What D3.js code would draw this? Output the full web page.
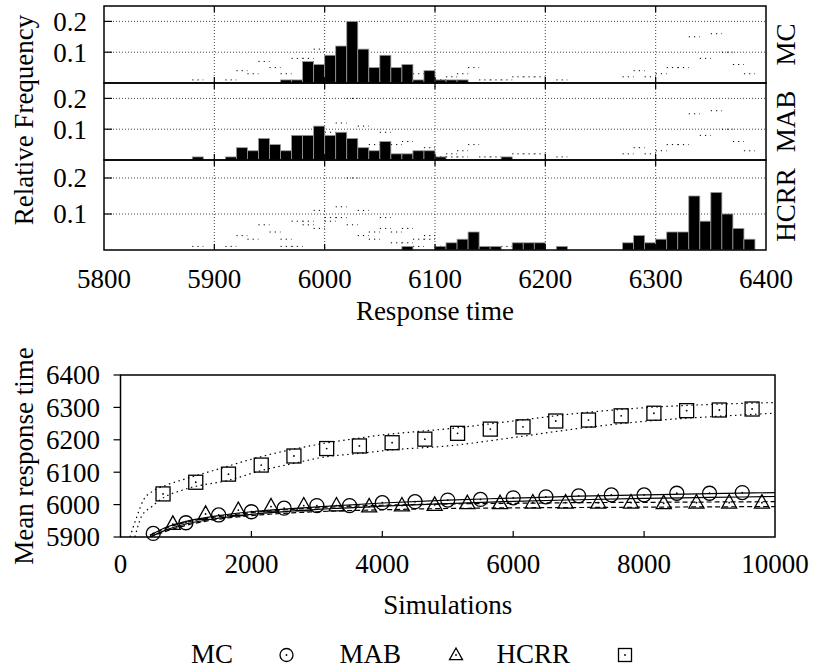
<!DOCTYPE html>
<html>
<head>
<meta charset="utf-8">
<script src="https://cdn.jsdelivr.net/npm/d3@7"></script>
<style>
  body { margin: 0; background: #fff; }
</style>
</head>
<body>
<div id="chart"></div>
<script>
// ---- histogram data (bin start, relative frequency, bin width 10) ----
var seriesNames = ["MC", "MAB", "HCRR"];

var mcBins = [5960, 5970, 5980, 5990, 6000, 6010, 6020, 6030, 6040, 6050, 6060, 6070, 6080, 6090, 6100, 6110, 6120];
var mcFreq = [0.01, 0.01, 0.07, 0.06, 0.09, 0.12, 0.20, 0.11, 0.05, 0.09, 0.05, 0.06, 0.01, 0.04, 0.01, 0.01, 0.01];

var mabBins = [5880, 5910, 5920, 5930, 5940, 5950, 5960, 5970, 5980, 5990, 6000, 6010, 6020, 6030, 6040, 6050, 6060, 6070, 6080, 6090, 6100, 6160];
var mabFreq = [0.01, 0.01, 0.04, 0.03, 0.07, 0.05, 0.03, 0.08, 0.08, 0.11, 0.08, 0.09, 0.07, 0.04, 0.03, 0.06, 0.02, 0.02, 0.03, 0.03, 0.01, 0.01];

var hcrrBins = [6070, 6100, 6110, 6120, 6130, 6140, 6150, 6170, 6180, 6190, 6210, 6270, 6280, 6290, 6300, 6310, 6320, 6330, 6340, 6350, 6360, 6370, 6380];
var hcrrFreq = [0.01, 0.01, 0.02, 0.03, 0.05, 0.01, 0.01, 0.02, 0.02, 0.02, 0.01, 0.02, 0.04, 0.02, 0.03, 0.05, 0.05, 0.15, 0.08, 0.16, 0.10, 0.06, 0.03];

var histXTicks = [5800, 5900, 6000, 6100, 6200, 6300, 6400];
var histYTicks = [0.1, 0.2];

// ---- convergence data (simulations vs mean response time) ----
var mcX = [500, 1000, 1500, 2000, 2500, 3000, 3500, 4000, 4500, 5000, 5500, 6000, 6500, 7000, 7500, 8000, 8500, 9000, 9500];
var mcY = [5911, 5944, 5968, 5978, 5989, 5997, 5997, 6006, 6009, 6014, 6016, 6021, 6024, 6027, 6030, 6030, 6035, 6035, 6037];

var mabX = [800, 1300, 1800, 2300, 2800, 3300, 3800, 4300, 4800, 5300, 5800, 6300, 6800, 7300, 7800, 8300, 8800, 9300, 9800];
var mabY = [5940, 5971, 5983, 5994, 5997, 5997, 5994, 5997, 5999, 6004, 6004, 6006, 6006, 6006, 6006, 6004, 6006, 6006, 6006];

var hcrrX = [650, 1150, 1650, 2150, 2650, 3150, 3650, 4150, 4650, 5150, 5650, 6150, 6650, 7150, 7650, 8150, 8650, 9150, 9650];
var hcrrY = [6033, 6069, 6094, 6122, 6150, 6173, 6181, 6191, 6202, 6220, 6233, 6240, 6258, 6261, 6274, 6282, 6290, 6292, 6295];

// confidence band curves
var mcBandX = [450, 700, 1000, 1500, 2000, 3000, 4000, 5000, 6000, 7000, 8000, 9000, 10000];
var mcUpper = [5905, 5930, 5948, 5966, 5978, 5993, 6005, 6014, 6020, 6026, 6030, 6034, 6037];
var mcLower = [5900, 5922, 5940, 5958, 5970, 5985, 5995, 6003, 6010, 6015, 6019, 6022, 6025];

var mabBandX = [450, 700, 1000, 1500, 2000, 3000, 4000, 5000, 6000, 7000, 8000, 9000, 10000];
var mabUpper = [5905, 5928, 5945, 5963, 5975, 5990, 5998, 6002, 6004, 6006, 6007, 6008, 6009];
var mabLower = [5900, 5918, 5936, 5955, 5966, 5978, 5984, 5988, 5990, 5991, 5992, 5993, 5994];

var hcrrUpX = [145, 250, 350, 480, 700, 1000, 1500, 2000, 2500, 3000, 3500, 4000, 4500, 5000, 6000, 7000, 8000, 9000, 10000];
var hcrrUpper = [5900, 5963, 6014, 6040, 6060, 6080, 6110, 6140, 6165, 6185, 6201, 6215, 6225, 6234, 6258, 6282, 6299, 6309, 6315];
var hcrrLoX = [220, 320, 480, 600, 1000, 1670, 2150, 2640, 3150, 3650, 4150, 5000, 6000, 7000, 8000, 9000, 10000];
var hcrrLower = [5900, 5963, 5994, 6014, 6048, 6076, 6105, 6127, 6148, 6158, 6169, 6181, 6207, 6235, 6257, 6271, 6282];

var convXTicks = [0, 2000, 4000, 6000, 8000, 10000];
var convYTicks = [5900, 6000, 6100, 6200, 6300, 6400];

var svgWidth = 814, svgHeight = 669;
var fontSize = 27;
var serif = "'Liberation Serif', 'Times New Roman', Times, 'Nimbus Roman', 'DejaVu Serif', serif";

var svg = d3.select("#chart").append("svg")
  .attr("width", svgWidth)
  .attr("height", svgHeight)
  .attr("font-family", serif)
  .style("font-family", serif);

// ================= top: three histogram panels =================
var histLeft = 104, histRight = 766;
var panels = [
  { name: "MC", top: 6, bottom: 83, bins: mcBins, freq: mcFreq },
  { name: "MAB", top: 83, bottom: 160, bins: mabBins, freq: mabFreq },
  { name: "HCRR", top: 160, bottom: 250, bins: hcrrBins, freq: hcrrFreq }
];

var xHist = d3.scaleLinear().domain([5800, 6400]).range([histLeft, histRight]);

panels.forEach(function(p, i) {
  var y = d3.scaleLinear().domain([0, 0.25]).range([p.bottom, p.top]);
  var g = svg.append("g");

  // grid
  g.selectAll("line.vgrid")
    .data(histXTicks.slice(1, -1))
    .enter().append("line")
    .attr("x1", d => xHist(d)).attr("x2", d => xHist(d))
    .attr("y1", p.top).attr("y2", p.bottom)
    .attr("stroke", "#444").attr("stroke-width", 1)
    .attr("stroke-dasharray", "1,2");
  g.selectAll("line.hgrid")
    .data(histYTicks)
    .enter().append("line")
    .attr("x1", histLeft).attr("x2", histRight)
    .attr("y1", d => y(d)).attr("y2", d => y(d))
    .attr("stroke", "#444").attr("stroke-width", 1)
    .attr("stroke-dasharray", "1,2");

  // ghost outlines of the other two series
  panels.forEach(function(o, j) {
    if (j === i) return;
    g.append("g").selectAll("line")
      .data(o.bins.map((b, k) => [b, o.freq[k]]))
      .enter().append("line")
      .attr("x1", d => xHist(d[0])).attr("x2", d => xHist(d[0] + 10))
      .attr("y1", d => y(d[1])).attr("y2", d => y(d[1]))
      .attr("stroke", "#000").attr("stroke-width", 1)
      .attr("stroke-dasharray", "1.2,4");
  });

  // bars
  g.append("g").selectAll("rect")
    .data(p.bins.map((b, k) => [b, p.freq[k]]))
    .enter().append("rect")
    .attr("x", d => xHist(d[0]))
    .attr("width", d => xHist(d[0] + 10) - xHist(d[0]))
    .attr("y", d => y(d[1]))
    .attr("height", d => p.bottom - y(d[1]))
    .attr("fill", "#000")
    .attr("stroke", "#999")
    .attr("stroke-width", 0.8);

  // border
  g.append("rect")
    .attr("x", histLeft).attr("y", p.top)
    .attr("width", histRight - histLeft).attr("height", p.bottom - p.top)
    .attr("fill", "none").attr("stroke", "#000").attr("stroke-width", 1.5);

  // y ticks + labels
  histYTicks.forEach(function(t) {
    g.append("line")
      .attr("x1", histLeft).attr("x2", histLeft + 8)
      .attr("y1", y(t)).attr("y2", y(t))
      .attr("stroke", "#000").attr("stroke-width", 1.2);
    g.append("text")
      .attr("x", 87).attr("y", y(t))
      .attr("dy", "0.35em")
      .attr("text-anchor", "end")
      .attr("font-size", fontSize + "px")
      .text(d3.format(".1f")(t));
  });

  // x ticks on top and bottom edges
  histXTicks.slice(1, -1).forEach(function(t) {
    g.append("line")
      .attr("x1", xHist(t)).attr("x2", xHist(t))
      .attr("y1", p.bottom).attr("y2", p.bottom - 6)
      .attr("stroke", "#000").attr("stroke-width", 1.2);
    g.append("line")
      .attr("x1", xHist(t)).attr("x2", xHist(t))
      .attr("y1", p.top).attr("y2", p.top + 6)
      .attr("stroke", "#000").attr("stroke-width", 1.2);
  });

  // series label on the right
  svg.append("text")
    .attr("transform", `translate(795, ${(p.top + p.bottom) / 2}) rotate(-90)`)
    .attr("text-anchor", "middle")
    .attr("font-size", fontSize + "px")
    .text(p.name);
});

// x tick labels
svg.append("g").selectAll("text")
  .data(histXTicks)
  .enter().append("text")
  .attr("x", d => xHist(d))
  .attr("y", 288)
  .attr("text-anchor", "middle")
  .attr("font-size", fontSize + "px")
  .text(d => d);

svg.append("text")
  .attr("x", (histLeft + histRight) / 2).attr("y", 320)
  .attr("text-anchor", "middle")
  .attr("font-size", fontSize + "px")
  .text("Response time");

svg.append("text")
  .attr("transform", "translate(33, 120) rotate(-90)")
  .attr("text-anchor", "middle")
  .attr("font-size", fontSize + "px")
  .text("Relative Frequency");

// ================= bottom: convergence plot =================
var cLeft = 120.5, cRight = 775, cTop = 375, cBottom = 537;
var xC = d3.scaleLinear().domain([0, 10000]).range([cLeft, cRight]);
var yC = d3.scaleLinear().domain([5900, 6400]).range([cBottom, cTop]);

svg.append("clipPath").attr("id", "clip")
  .append("rect")
  .attr("x", cLeft).attr("y", cTop)
  .attr("width", cRight - cLeft).attr("height", cBottom - cTop);

var plot = svg.append("g").attr("clip-path", "url(#clip)");

var line = d3.line()
  .x(d => xC(d[0]))
  .y(d => yC(d[1]))
  .curve(d3.curveMonotoneX);

function zip(xs, ys) { return xs.map((x, k) => [x, ys[k]]); }

var bands = [
  { pts: zip(mcBandX, mcUpper), dash: null },
  { pts: zip(mcBandX, mcLower), dash: null },
  { pts: zip(mabBandX, mabUpper), dash: "5,3" },
  { pts: zip(mabBandX, mabLower), dash: "5,3" },
  { pts: zip(hcrrUpX, hcrrUpper), dash: "1.5,3.5" },
  { pts: zip(hcrrLoX, hcrrLower), dash: "1.5,3.5" }
];

plot.selectAll("path.band")
  .data(bands)
  .enter().append("path")
  .attr("d", d => line(d.pts))
  .attr("fill", "none")
  .attr("stroke", "#000")
  .attr("stroke-width", 1.2)
  .attr("stroke-dasharray", d => d.dash);

// marker shapes
function drawMarker(sel, kind, s) {
  if (kind === "circle") {
    sel.append("circle").attr("r", s).attr("fill", "none")
      .attr("stroke", "#000").attr("stroke-width", 1.3);
  } else if (kind === "triangle") {
    var h = s * 1.8;
    sel.append("path")
      .attr("d", `M0,${-h * 0.6}L${s},${h * 0.4}L${-s},${h * 0.4}Z`)
      .attr("fill", "none").attr("stroke", "#000").attr("stroke-width", 1.3);
  } else {
    sel.append("rect").attr("x", -s).attr("y", -s)
      .attr("width", 2 * s).attr("height", 2 * s)
      .attr("fill", "none").attr("stroke", "#000").attr("stroke-width", 1.3);
  }
  sel.append("circle").attr("r", 0.9).attr("fill", "#000");
}

var pointSets = [
  { kind: "circle", pts: zip(mcX, mcY), size: 7 },
  { kind: "triangle", pts: zip(mabX, mabY), size: 7.5 },
  { kind: "square", pts: zip(hcrrX, hcrrY), size: 7 }
];

pointSets.forEach(function(ps) {
  svg.append("g").selectAll("g")
    .data(ps.pts)
    .enter().append("g")
    .attr("transform", d => `translate(${xC(d[0])},${yC(d[1])})`)
    .each(function() { drawMarker(d3.select(this), ps.kind, ps.size); });
});

// border
svg.append("rect")
  .attr("x", cLeft).attr("y", cTop)
  .attr("width", cRight - cLeft).attr("height", cBottom - cTop)
  .attr("fill", "none").attr("stroke", "#000").attr("stroke-width", 1.5);

// y ticks
svg.append("g").selectAll("line")
  .data(convYTicks)
  .enter().append("line")
  .attr("x1", cLeft - 7).attr("x2", cLeft)
  .attr("y1", d => yC(d)).attr("y2", d => yC(d))
  .attr("stroke", "#000").attr("stroke-width", 1.2);

svg.append("g").selectAll("text")
  .data(convYTicks)
  .enter().append("text")
  .attr("x", 100).attr("y", d => yC(d))
  .attr("dy", "0.35em")
  .attr("text-anchor", "end")
  .attr("font-size", fontSize + "px")
  .text(d => d);

// x ticks
svg.append("g").selectAll("line")
  .data(convXTicks.slice(1, -1))
  .enter().append("line")
  .attr("x1", d => xC(d)).attr("x2", d => xC(d))
  .attr("y1", cBottom).attr("y2", cBottom - 6)
  .attr("stroke", "#000").attr("stroke-width", 1.2);

svg.append("g").selectAll("text")
  .data(convXTicks)
  .enter().append("text")
  .attr("x", d => xC(d)).attr("y", 573)
  .attr("text-anchor", "middle")
  .attr("font-size", fontSize + "px")
  .text(d => d);

svg.append("text")
  .attr("x", (cLeft + cRight) / 2).attr("y", 614)
  .attr("text-anchor", "middle")
  .attr("font-size", fontSize + "px")
  .text("Simulations");

svg.append("text")
  .attr("transform", `translate(33, ${(cTop + cBottom) / 2}) rotate(-90)`)
  .attr("text-anchor", "middle")
  .attr("font-size", fontSize + "px")
  .text("Mean response time");

// ================= legend =================
var legendTextX = [233, 401, 570];
var legendMarkX = [286.5, 456, 625];
var legendKinds = ["circle", "triangle", "square"];

seriesNames.forEach(function(name, k) {
  svg.append("text")
    .attr("x", legendTextX[k]).attr("y", 663)
    .attr("text-anchor", "end")
    .attr("font-size", fontSize + "px")
    .text(name);
  var m = svg.append("g")
    .attr("transform", `translate(${legendMarkX[k]}, 655)`);
  drawMarker(m, legendKinds[k], 6.5);
});
</script>
</body>
</html>
